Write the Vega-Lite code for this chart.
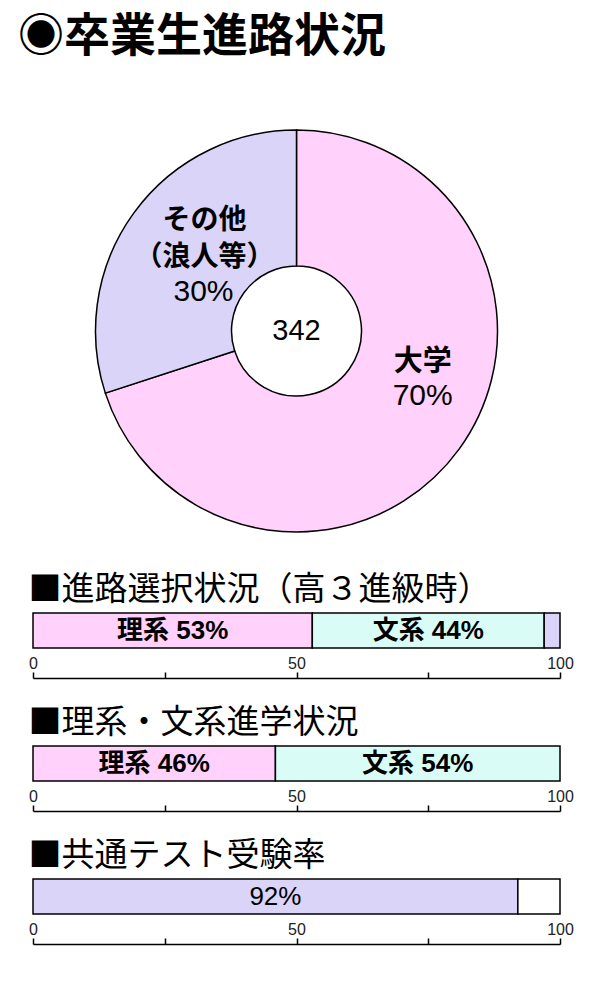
{
  "$schema": "https://vega.github.io/schema/vega-lite/v6.json",
  "description": "卒業生進路状況: donut of graduates' destinations plus three 100% bars.",
  "background": "white",
  "padding": {"left": 18, "top": 14, "right": 5, "bottom": 5},
  "config": {
    "view": {"stroke": null},
    "font": "Liberation Sans, Noto Sans CJK JP",
    "text": {"color": "black"}
  },
  "datasets": {
    "course": [
      {"category": "大学", "order": 1, "value": 70, "name": "大学", "pct": "70%"},
      {"category": "その他", "order": 2, "value": 30, "name": "その他\n（浪人等）", "pct": "30%"}
    ],
    "bars": [
      {"section": "選択", "category": "理系", "order": 1, "value": 53, "label": "理系 53%"},
      {"section": "選択", "category": "文系", "order": 2, "value": 44, "label": "文系 44%"},
      {"section": "選択", "category": "その他", "order": 3, "value": 3, "label": ""},
      {"section": "進学", "category": "理系", "order": 1, "value": 46, "label": "理系 46%"},
      {"section": "進学", "category": "文系", "order": 2, "value": 54, "label": "文系 54%"},
      {"section": "受験", "category": "受験", "order": 1, "value": 92, "label": "92%"},
      {"section": "受験", "category": "未受験", "order": 2, "value": 8, "label": ""}
    ]
  },
  "spacing": 28,
  "vconcat": [
    {
      "width": 527,
      "height": 430,
      "title": {
        "text": "◉卒業生進路状況",
        "anchor": "start",
        "font": "Noto Sans CJK JP",
        "fontSize": 46,
        "fontWeight": "bold",
        "color": "black",
        "baseline": "bottom",
        "dx": -15,
        "offset": 9
      },
      "data": {"name": "course"},
      "transform": [
        {"stack": "value", "groupby": [], "sort": [{"field": "order", "order": "ascending"}], "as": ["v0", "v1"]},
        {"calculate": "(datum.v0 + datum.v1) / 2", "as": "mid"}
      ],
      "layer": [
        {
          "mark": {"type": "arc", "outerRadius": 201, "innerRadius": 65, "stroke": "black", "strokeWidth": 1.5},
          "encoding": {
            "theta": {"field": "v0", "type": "quantitative", "stack": null, "scale": {"domain": [0, 100]}},
            "theta2": {"field": "v1"},
            "color": {
              "field": "category",
              "type": "nominal",
              "legend": null,
              "scale": {
                "domain": ["大学", "その他", "理系", "文系", "受験", "未受験"],
                "range": ["#FFD1FB", "#D9D4F8", "#FFD1FB", "#D9FDF6", "#D9D4F8", "#FFFFFF"]
              }
            }
          }
        },
        {
          "transform": [{"filter": "datum.category === '大学'"}],
          "mark": {"type": "text", "radius": 130, "dx": 21, "dy": -45, "font": "Noto Sans CJK JP", "fontSize": 29, "fontWeight": "bold"},
          "encoding": {
            "theta": {"field": "mid", "type": "quantitative", "stack": null},
            "text": {"field": "name"}
          }
        },
        {
          "transform": [{"filter": "datum.category === '大学'"}],
          "mark": {"type": "text", "radius": 130, "dx": 21, "dy": -11, "font": "Liberation Sans", "fontSize": 30},
          "encoding": {
            "theta": {"field": "mid", "type": "quantitative", "stack": null},
            "text": {"field": "pct"}
          }
        },
        {
          "transform": [{"filter": "datum.category === 'その他'"}],
          "mark": {"type": "text", "radius": 110, "dx": -3, "dy": -45, "lineBreak": "\n", "lineHeight": 37, "font": "Noto Sans CJK JP", "fontSize": 28, "fontWeight": "bold"},
          "encoding": {
            "theta": {"field": "mid", "type": "quantitative", "stack": null},
            "text": {"field": "name"}
          }
        },
        {
          "transform": [{"filter": "datum.category === 'その他'"}],
          "mark": {"type": "text", "radius": 110, "dx": -4, "dy": 26, "font": "Liberation Sans", "fontSize": 30},
          "encoding": {
            "theta": {"field": "mid", "type": "quantitative", "stack": null},
            "text": {"field": "pct"}
          }
        },
        {
          "data": {"values": [{"total": 342}]},
          "mark": {"type": "text", "font": "Liberation Sans", "fontSize": 29},
          "encoding": {"text": {"field": "total", "type": "quantitative"}}
        }
      ]
    },
    {
      "width": 527,
      "height": 35,
      "title": {"text": "■進路選択状況（高３進級時）", "anchor": "start", "font": "Noto Sans CJK JP", "fontSize": 33, "fontWeight": "normal", "color": "black", "baseline": "bottom", "offset": -28},
      "data": {"name": "bars"},
      "transform": [
        {"filter": "datum.section === '選択'"},
        {"stack": "value", "groupby": ["section"], "sort": [{"field": "order", "order": "ascending"}], "as": ["v0", "v1"]},
        {"calculate": "(datum.v0 + datum.v1) / 2", "as": "mid"}
      ],
      "encoding": {
        "y": {"field": "section", "type": "nominal", "axis": null, "scale": {"paddingInner": 0, "paddingOuter": 0}}
      },
      "layer": [
        {
          "mark": {"type": "bar", "stroke": "black", "strokeWidth": 1.5},
          "encoding": {
            "x": {
              "field": "v0",
              "type": "quantitative",
              "scale": {"domain": [0, 100]},
              "axis": {
                "values": [0, 25, 50, 75, 100],
                "labelExpr": "datum.value % 50 === 0 ? datum.label : ''",
                "title": null, "grid": false, "offset": 30,
                "tickSize": -6, "tickWidth": 1.5, "tickColor": "black",
                "domainColor": "black", "domainWidth": 1.5,
                "labelPadding": -17, "labelFont": "Liberation Sans", "labelFontSize": 16,
                "labelColor": "#222", "labelFlush": false, "labelOverlap": false
              }
            },
            "x2": {"field": "v1"},
            "color": {
              "field": "category",
              "type": "nominal",
              "legend": null,
              "scale": {
                "domain": ["大学", "その他", "理系", "文系", "受験", "未受験"],
                "range": ["#FFD1FB", "#D9D4F8", "#FFD1FB", "#D9FDF6", "#D9D4F8", "#FFFFFF"]
              }
            }
          }
        },
        {
          "mark": {"type": "text", "fontSize": 26, "fontWeight": "bold"},
          "encoding": {
            "x": {"field": "mid", "type": "quantitative"},
            "text": {"field": "label"}
          }
        }
      ]
    },
    {
      "width": 527,
      "height": 35,
      "title": {"text": "■理系・文系進学状況", "anchor": "start", "font": "Noto Sans CJK JP", "fontSize": 33, "fontWeight": "normal", "color": "black", "baseline": "bottom", "offset": -28},
      "data": {"name": "bars"},
      "transform": [
        {"filter": "datum.section === '進学'"},
        {"stack": "value", "groupby": ["section"], "sort": [{"field": "order", "order": "ascending"}], "as": ["v0", "v1"]},
        {"calculate": "(datum.v0 + datum.v1) / 2", "as": "mid"}
      ],
      "encoding": {
        "y": {"field": "section", "type": "nominal", "axis": null, "scale": {"paddingInner": 0, "paddingOuter": 0}}
      },
      "layer": [
        {
          "mark": {"type": "bar", "stroke": "black", "strokeWidth": 1.5},
          "encoding": {
            "x": {
              "field": "v0",
              "type": "quantitative",
              "scale": {"domain": [0, 100]},
              "axis": {
                "values": [0, 25, 50, 75, 100],
                "labelExpr": "datum.value % 50 === 0 ? datum.label : ''",
                "title": null, "grid": false, "offset": 30,
                "tickSize": -6, "tickWidth": 1.5, "tickColor": "black",
                "domainColor": "black", "domainWidth": 1.5,
                "labelPadding": -17, "labelFont": "Liberation Sans", "labelFontSize": 16,
                "labelColor": "#222", "labelFlush": false, "labelOverlap": false
              }
            },
            "x2": {"field": "v1"},
            "color": {
              "field": "category",
              "type": "nominal",
              "legend": null,
              "scale": {
                "domain": ["大学", "その他", "理系", "文系", "受験", "未受験"],
                "range": ["#FFD1FB", "#D9D4F8", "#FFD1FB", "#D9FDF6", "#D9D4F8", "#FFFFFF"]
              }
            }
          }
        },
        {
          "mark": {"type": "text", "fontSize": 26, "fontWeight": "bold"},
          "encoding": {
            "x": {"field": "mid", "type": "quantitative"},
            "text": {"field": "label"}
          }
        }
      ]
    },
    {
      "width": 527,
      "height": 35,
      "title": {"text": "■共通テスト受験率", "anchor": "start", "font": "Noto Sans CJK JP", "fontSize": 33, "fontWeight": "normal", "color": "black", "baseline": "bottom", "offset": -28},
      "data": {"name": "bars"},
      "transform": [
        {"filter": "datum.section === '受験'"},
        {"stack": "value", "groupby": ["section"], "sort": [{"field": "order", "order": "ascending"}], "as": ["v0", "v1"]},
        {"calculate": "(datum.v0 + datum.v1) / 2", "as": "mid"}
      ],
      "encoding": {
        "y": {"field": "section", "type": "nominal", "axis": null, "scale": {"paddingInner": 0, "paddingOuter": 0}}
      },
      "layer": [
        {
          "mark": {"type": "bar", "stroke": "black", "strokeWidth": 1.5},
          "encoding": {
            "x": {
              "field": "v0",
              "type": "quantitative",
              "scale": {"domain": [0, 100]},
              "axis": {
                "values": [0, 25, 50, 75, 100],
                "labelExpr": "datum.value % 50 === 0 ? datum.label : ''",
                "title": null, "grid": false, "offset": 30,
                "tickSize": -6, "tickWidth": 1.5, "tickColor": "black",
                "domainColor": "black", "domainWidth": 1.5,
                "labelPadding": -17, "labelFont": "Liberation Sans", "labelFontSize": 16,
                "labelColor": "#222", "labelFlush": false, "labelOverlap": false
              }
            },
            "x2": {"field": "v1"},
            "color": {
              "field": "category",
              "type": "nominal",
              "legend": null,
              "scale": {
                "domain": ["大学", "その他", "理系", "文系", "受験", "未受験"],
                "range": ["#FFD1FB", "#D9D4F8", "#FFD1FB", "#D9FDF6", "#D9D4F8", "#FFFFFF"]
              }
            }
          }
        },
        {
          "mark": {"type": "text", "fontSize": 26},
          "encoding": {
            "x": {"field": "mid", "type": "quantitative"},
            "text": {"field": "label"}
          }
        }
      ]
    }
  ]
}
